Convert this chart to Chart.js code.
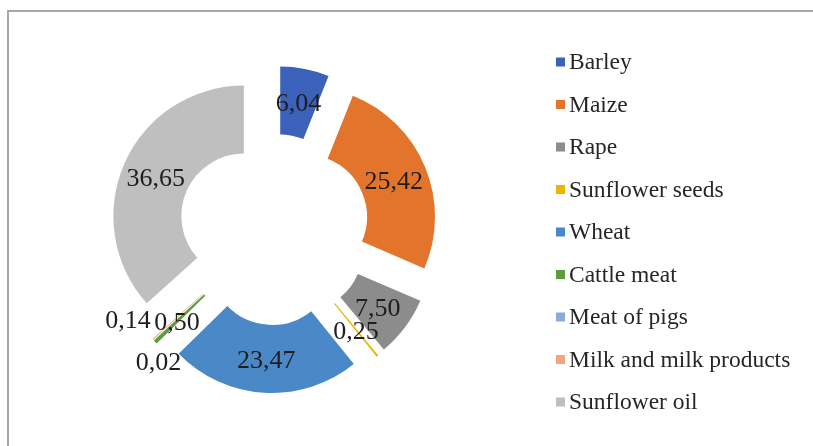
<!DOCTYPE html>
<html>
<head>
<meta charset="utf-8">
<script src="https://cdn.jsdelivr.net/npm/chart.js@4/dist/chart.umd.min.js"></script>
<style>
  html, body { margin: 0; padding: 0; background: #fff; }
  #wrap { position: relative; width: 813px; height: 446px; overflow: hidden; }
  #frame { position: absolute; left: 7px; top: 10px; right: -6px; bottom: -6px;
           border-left: 2px solid #a8a8a8; border-top: 2px solid #a8a8a8; }
  canvas { position: absolute; left: 0; top: 0; }
</style>
</head>
<body>
<div id="wrap">
  <div id="frame"></div>
  <canvas id="c" width="813" height="446"></canvas>
</div>
<script>
// Structure of the product group, percent
const categories = ['Barley', 'Maize', 'Rape', 'Sunflower seeds', 'Wheat',
                    'Cattle meat', 'Meat of pigs', 'Milk and milk products', 'Sunflower oil'];
const shares = [6.04, 25.42, 7.50, 0.25, 23.47, 0.50, 0.02, 0.14, 36.65];
const sliceColors = ['#3c61bb', '#e2752b', '#8c8c8c', '#eab400', '#4a88c8',
                     '#5e9c3c', '#8ea9db', '#f3a67f', '#bfbfbf'];

// value labels use a decimal comma
const fmt = v => v.toFixed(2).replace('.', ',');

// crowded labels of the thin slices are pushed aside (pixels)
const labelShift = {
  'Cattle meat': [-3, 3],
  'Meat of pigs': [-20, 44],
  'Milk and milk products': [-50, 3]
};

const OUTER = 130.5, INNER = 62.5, EXPLODE = 33;
const SERIF = '"Liberation Serif", "Times New Roman", serif';

// every slice is pulled out from the centre along its bisector
const explodedSlices = {
  id: 'explodedSlices',
  beforeDatasetsDraw(chart) {
    const ctx = chart.ctx;
    chart.getDatasetMeta(0).data.forEach(arc => {
      const mid = (arc.startAngle + arc.endAngle) / 2;
      ctx.save();
      ctx.translate(Math.cos(mid) * EXPLODE, Math.sin(mid) * EXPLODE);
      arc.draw(ctx, chart.chartArea);
      ctx.restore();
    });
    return false;
  }
};

const sliceLabels = {
  id: 'sliceLabels',
  afterDraw(chart) {
    const ctx = chart.ctx;
    ctx.save();
    ctx.font = '26px ' + SERIF;
    ctx.fillStyle = '#1e1e1e';
    ctx.textAlign = 'center';
    ctx.textBaseline = 'middle';
    chart.getDatasetMeta(0).data.forEach((arc, i) => {
      const mid = (arc.startAngle + arc.endAngle) / 2;
      const rr = (arc.innerRadius + arc.outerRadius) / 2 + EXPLODE;
      const s = labelShift[categories[i]] || [0, 0];
      ctx.fillText(fmt(shares[i]), arc.x + Math.cos(mid) * rr + s[0], arc.y + Math.sin(mid) * rr + 2 + s[1]);
    });
    ctx.restore();
  }
};

const sideLegend = {
  id: 'sideLegend',
  afterDraw(chart) {
    const ctx = chart.ctx;
    ctx.save();
    ctx.font = '23.5px ' + SERIF;
    ctx.textAlign = 'left';
    ctx.textBaseline = 'middle';
    categories.forEach((name, i) => {
      const y = 62 + i * 42.5;
      ctx.fillStyle = sliceColors[i];
      ctx.fillRect(556, y - 4.5, 9, 9);
      ctx.fillStyle = '#262626';
      ctx.fillText(name, 569, y + 1);
    });
    ctx.restore();
  }
};

new Chart(document.getElementById('c'), {
  type: 'doughnut',
  data: {
    labels: categories,
    datasets: [{
      data: shares,
      backgroundColor: sliceColors,
      borderWidth: 0,
      offset: 0
    }]
  },
  options: {
    responsive: false,
    animation: false,
    radius: OUTER,
    cutout: (INNER / OUTER * 100) + '%',
    layout: { padding: { left: 0, right: 265, top: 13, bottom: 0 } },
    plugins: {
      legend: { display: false },
      tooltip: { enabled: false }
    }
  },
  plugins: [explodedSlices, sliceLabels, sideLegend]
});
</script>
</body>
</html>
